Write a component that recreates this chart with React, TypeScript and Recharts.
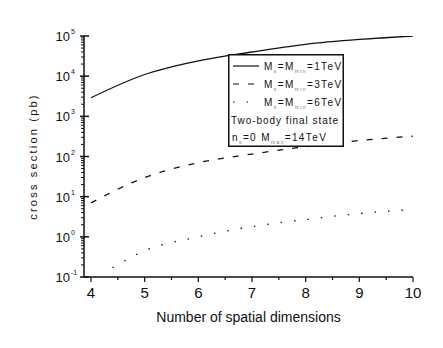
import { Line, LineChart, XAxis, YAxis, Label } from "recharts";

// dimensions (x) and cross sections in pb
const dims = [4, 5, 6, 7, 8, 9, 10];
const sigma1TeV = [2900, 11000, 24000, 40000, 62000, 82000, 100000];
const sigma3TeV = [7, 30, 70, 115, 175, 250, 320];
const dims6TeV = [4.4, 5, 6, 7, 8, 9, 10];
const sigma6TeV = [0.17, 0.45, 1.0, 1.8, 2.7, 3.8, 4.8];

const xTicks = [4, 4.5, 5, 5.5, 6, 6.5, 7, 7.5, 8, 8.5, 9, 9.5, 10];
const decades = [-1, 0, 1, 2, 3, 4, 5];
const legendRows = [
  { mass: "1", dash: undefined },
  { mass: "3", dash: "6 9" },
  { mass: "6", dash: "1.5 12" },
];

const yTicks: number[] = [];
decades.forEach((d) => {
  if (d === 5) {
    yTicks.push(1e5);
    return;
  }
  for (let m = 1; m < 10; m++) yTicks.push(Number((m * Math.pow(10, d)).toPrecision(3)));
});

const font = "'Liberation Sans', Arial, sans-serif";
const ink = "#111";

const series = [
  { key: "1", xs: dims, ys: sigma1TeV, dash: undefined },
  { key: "3", xs: dims, ys: sigma3TeV, dash: "6 9" },
  { key: "6", xs: dims6TeV, ys: sigma6TeV, dash: "1.5 12" },
];

function YTick({ x, y, payload }: any) {
  const v = payload.value as number;
  const exp = Math.log10(v);
  const major = Math.abs(exp - Math.round(exp)) < 1e-6;
  if (!major) {
    return <line x1={x - 3} x2={x} y1={y} y2={y} stroke={ink} strokeWidth={1} />;
  }
  return (
    <g>
      <line x1={x - 4} x2={x + 5} y1={y} y2={y} stroke={ink} strokeWidth={1.5} />
      <text x={x - 14} y={y + 5} textAnchor="end" fontSize={13} fill={ink} fontFamily={font}>
        10
      </text>
      <text x={x - 13} y={y - 2} textAnchor="start" fontSize={7} fill={ink} fontFamily={font}>
        {Math.round(exp)}
      </text>
    </g>
  );
}

function XTick({ x, y, payload }: any) {
  const v = payload.value as number;
  const major = Number.isInteger(v);
  return (
    <g>
      <line x1={x} x2={x} y1={y} y2={y + (major ? 5 : 3)} stroke={ink} strokeWidth={1.2} />
      {major && (
        <text x={x} y={y + 21} textAnchor="middle" fontSize={15} fill={ink} fontFamily={font}>
          {v}
        </text>
      )}
    </g>
  );
}

function LegendBox() {
  return (
    <svg
      width={116}
      height={93}
      style={{ position: "absolute", left: 228, top: 54, background: "#fff" }}
    >
      <rect x={0.75} y={0.75} width={114.5} height={91.5} fill="#fff" stroke={ink} strokeWidth={1.5} />
      {legendRows.map((r, i) => {
        const yy = 12 + i * 18;
        return (
          <g key={r.mass} fontFamily={font} fill={ink}>
            <line x1={5} x2={31} y1={yy} y2={yy} stroke={ink} strokeWidth={1.2} strokeDasharray={r.dash} />
            <text x={36} y={yy + 4} fontSize={10} letterSpacing={1.4} fill={ink}>
              M
              <tspan fontSize={5} dy={3} fill="#777">s</tspan>
              <tspan dy={-3}>=M</tspan>
              <tspan fontSize={5} dy={3} fill="#777">min</tspan>
              <tspan dy={-3}>={r.mass}TeV</tspan>
            </text>
          </g>
        );
      })}
      <text x={3} y={70} fontSize={10} letterSpacing={0.95} fontFamily={font} fill={ink}>
        Two-body final state
      </text>
      <text x={4} y={87} fontSize={10} letterSpacing={1.4} fontFamily={font} fill={ink}>
        n<tspan fontSize={5} dy={3} fill="#777">s</tspan>
        <tspan dy={-3}>=0 M</tspan>
        <tspan fontSize={5} dy={3} fill="#777">max</tspan>
        <tspan dy={-3}>=14TeV</tspan>
      </text>
    </svg>
  );
}

export default function App() {
  return (
    <div style={{ position: "absolute", left: 0, top: 0, width: 443, height: 348, background: "#fff" }}>
      <LineChart width={443} height={348} margin={{ top: 36, right: 30, bottom: 0, left: 0 }}>
        <XAxis
          type="number"
          dataKey="x"
          domain={[3.87, 10]}
          ticks={xTicks}
          allowDataOverflow
          height={71}
          stroke={ink}
          strokeWidth={1.5}
          tickLine={false}
          tickSize={0}
          tickMargin={0}
          tick={<XTick />}
          interval={0}
        >
          <Label
            value="Number of spatial dimensions"
            position="insideBottom"
            offset={26}
            fontSize={14}
            style={{ fill: ink, fontFamily: font }}
          />
        </XAxis>
        <YAxis
          type="number"
          dataKey="y"
          scale="log"
          domain={[0.1, 1e5]}
          ticks={yTicks}
          allowDataOverflow
          width={84}
          stroke={ink}
          strokeWidth={1.5}
          tickLine={false}
          tickSize={0}
          tickMargin={0}
          tick={<YTick />}
          interval={0}
        >
          <Label
            value="cross section (pb)"
            angle={-90}
            position="insideLeft"
            offset={33}
            fontSize={11}
            style={{ textAnchor: "middle", fill: ink, fontFamily: font, letterSpacing: 2.2 }}
          />
        </YAxis>
        {series.map((s) => (
          <Line
            key={s.key}
            data={s.xs.map((x, i) => ({ x, y: s.ys[i] }))}
            dataKey="y"
            type="monotone"
            stroke={ink}
            strokeWidth={1.3}
            strokeDasharray={s.dash}
            dot={false}
            isAnimationActive={false}
          />
        ))}
      </LineChart>
      <LegendBox />
    </div>
  );
}
